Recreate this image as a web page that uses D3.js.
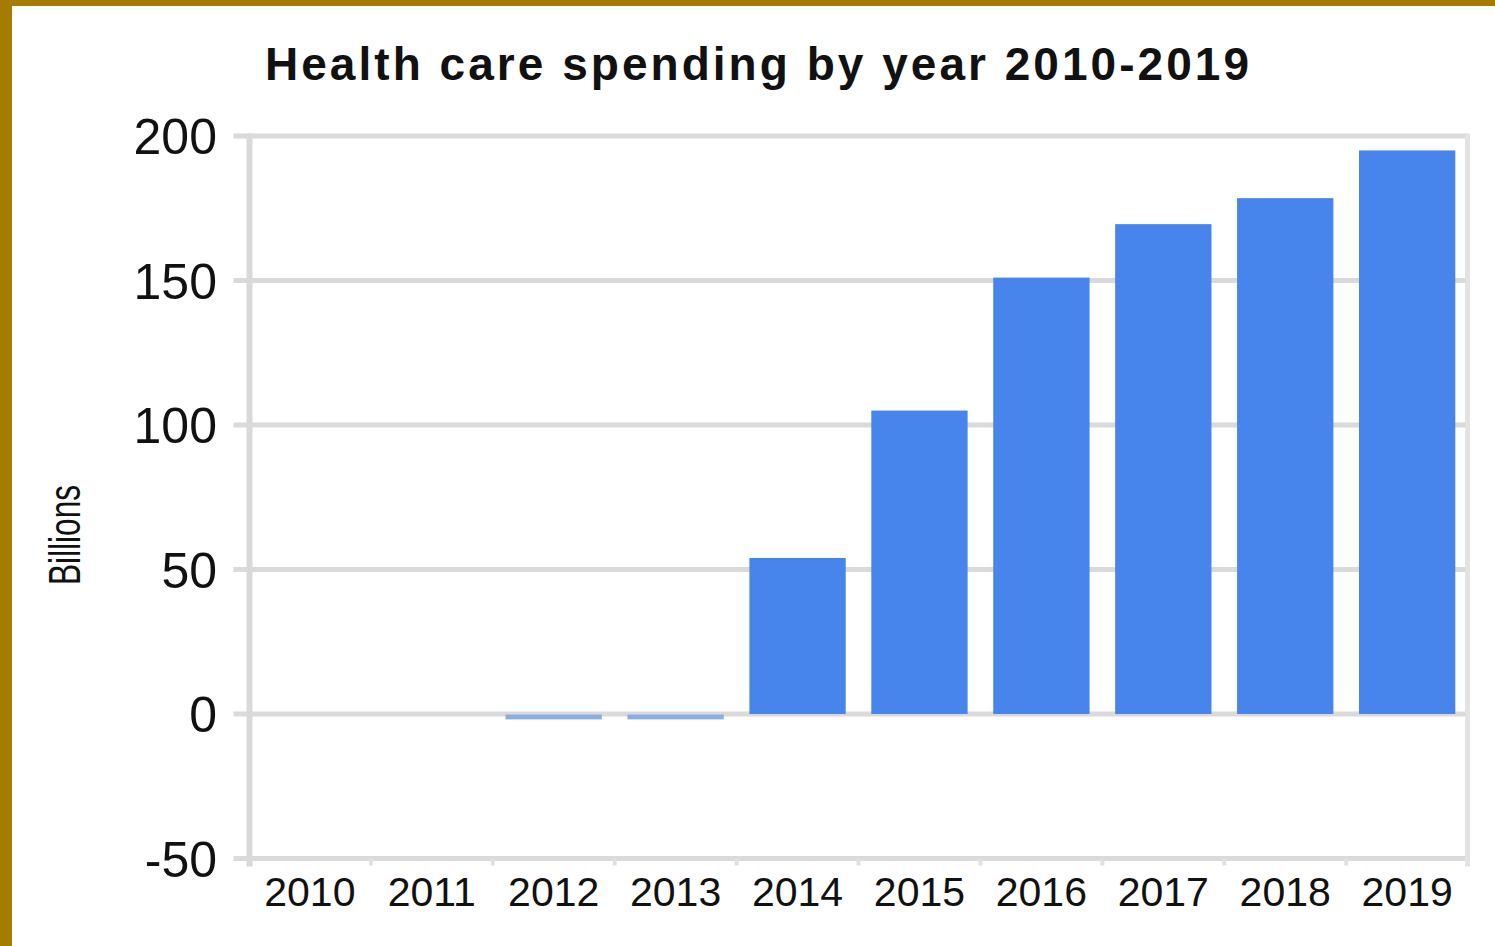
<!DOCTYPE html>
<html lang="en">
	<head>
		<meta charset="UTF-8" />
		<script src="https://d3js.org/d3.v7.min.js"></script>
		<style>
			body { margin:0; padding:0; background:#fff; }
			svg { display:block; }
			text { font-family: "Liberation Sans", Arial, sans-serif; fill:#111; }
		</style>
	</head>
	<body>
		<script>
			// data
			var years = ["2010","2011","2012","2013","2014","2015","2016","2017","2018","2019"];
			var spending = [0, 0, -1, -1, 54, 105, 151, 169.5, 178.5, 195];
			var yTicks = [-50, 0, 50, 100, 150, 200];
			var title = "Health care spending by year 2010-2019";
			var yLabel = "Billions";

			var width = 1495, height = 946;
			var svg = d3.select("body").append("svg")
				.attr("width", width)
				.attr("height", height);

			// gold frame top/left
			svg.append("rect").attr("x",0).attr("y",0).attr("width",width).attr("height",height).attr("fill","#a57c00");
			svg.append("rect").attr("x",12).attr("y",6).attr("width",width-12).attr("height",height-6).attr("fill","#fff");

			var plot = {left:249.5, right:1467.5, top:136, bottom:858.5};

			var x = d3.scaleBand()
				.domain(years)
				.range([plot.left, plot.right])
				.paddingInner(0.21)
				.paddingOuter(0.1);

			var y = d3.scaleLinear()
				.domain([-50, 200])
				.range([plot.bottom, plot.top]);

			// grid lines (and little tick stubs to the left)
			svg.selectAll("line.grid").data(yTicks).enter().append("line")
				.attr("class","grid")
				.attr("x1", plot.left - 16)
				.attr("x2", plot.right)
				.attr("y1", function(d){ return y(d); })
				.attr("y2", function(d){ return y(d); })
				.attr("stroke", "#dadada")
				.attr("stroke-width", 5);

			// frame sides
			svg.append("line")
				.attr("x1", plot.left).attr("x2", plot.left)
				.attr("y1", plot.top - 2.5).attr("y2", plot.bottom + 8)
				.attr("stroke","#d9d9d9").attr("stroke-width",6);
			svg.append("line")
				.attr("x1", plot.right).attr("x2", plot.right)
				.attr("y1", plot.top - 2.5).attr("y2", plot.bottom + 8)
				.attr("stroke","#e3e3e3").attr("stroke-width",5);

			// x tick stubs at band edges
			var step = x.step();
			var edges = d3.range(1, years.length).map(function(i){ return x(years[i]) - step*x.paddingInner()/2; });
			svg.selectAll("line.xt").data(edges).enter().append("line")
				.attr("class","xt")
				.attr("x1", function(d){ return d; })
				.attr("x2", function(d){ return d; })
				.attr("y1", plot.bottom)
				.attr("y2", plot.bottom + 7)
				.attr("stroke","#e0e0e0")
				.attr("stroke-width",4);

			// bars
			svg.selectAll("rect.bar").data(spending).enter().append("rect")
				.attr("class","bar")
				.attr("x", function(d,i){ return x(years[i]); })
				.attr("width", x.bandwidth())
				.attr("y", function(d){ return d >= 0 ? y(d) : y(0) + 0.5; })
				.attr("height", function(d){ return d >= 0 ? Math.max(0, y(0) - y(d)) : y(d) - y(0) + 2; })
				.attr("fill", function(d){ return d >= 0 ? "#4785ec" : "#8aaee3"; });

			// y labels
			svg.selectAll("text.yl").data(yTicks).enter().append("text")
				.attr("class","yl")
				.attr("x", 217)
				.attr("y", function(d){ return y(d) + 18; })
				.attr("text-anchor","end")
				.attr("font-size", 50)
				.text(function(d){ return d; });

			// x labels
			svg.selectAll("text.xl").data(years).enter().append("text")
				.attr("class","xl")
				.attr("x", function(d){ return x(d) + x.bandwidth()/2; })
				.attr("y", 906)
				.attr("text-anchor","middle")
				.attr("font-size", 41)
				.text(function(d){ return d; });

			// title
			svg.append("text")
				.attr("x", 265)
				.attr("y", 80)
				.attr("font-size", 46)
				.attr("font-weight", "bold")
				.attr("textLength", 984)
				.attr("lengthAdjust", "spacing")
				.text(title);

			// axis title
			svg.append("text")
				.attr("transform", "translate(80,535) rotate(-90)")
				.attr("text-anchor","middle")
				.attr("font-size", 44)
				.attr("textLength", 100)
				.attr("lengthAdjust", "spacingAndGlyphs")
				.text(yLabel);
		</script>
	</body>
</html>
